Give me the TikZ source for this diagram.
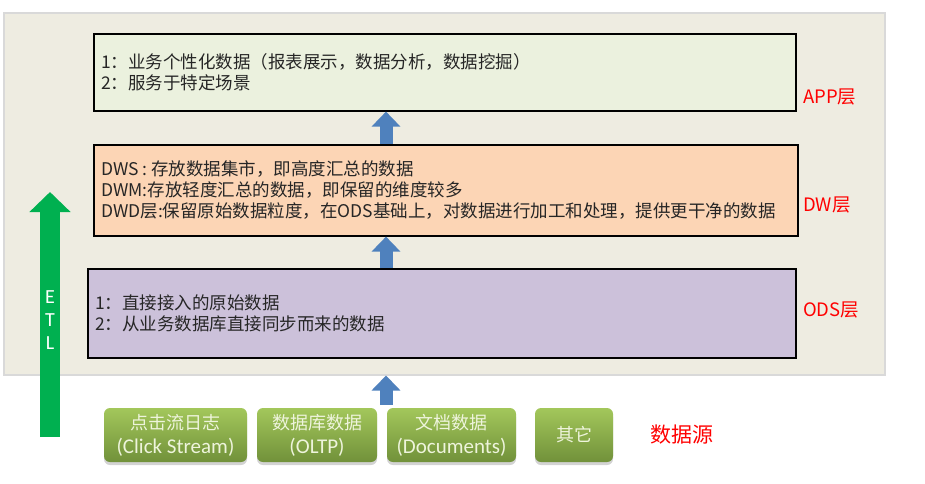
\documentclass[tikz,border=0pt]{standalone}
\usepackage{fontspec}
\setmainfont{Noto Sans CJK SC}
\newfontfamily\calibri{Carlito}
\usetikzlibrary{arrows.meta,shadows,positioning}
\definecolor{panelbg}{HTML}{EEECE1}
\definecolor{panelline}{HTML}{D9D9D9}
\definecolor{appfill}{HTML}{EBF1DE}
\definecolor{dwfill}{HTML}{FCD5B5}
\definecolor{odsfill}{HTML}{CCC1DA}
\definecolor{arrowblue}{HTML}{4F81BD}
\definecolor{etlgreen}{HTML}{00B050}
\definecolor{srctop}{HTML}{A3C75B}
\definecolor{srcbot}{HTML}{71913A}
\definecolor{srctext}{HTML}{EEF4DC}
\begin{document}
\begin{tikzpicture}[x=1pt,y=-1pt,
  layer/.style={draw=black,line width=1.6pt,anchor=north west,inner sep=0pt},
  txt/.style={anchor=west,align=left,inner sep=0pt,text=black!85,font=\fontsize{17.5}{21}\selectfont},
  tag/.style={anchor=west,inner sep=0pt,text=red,font=\fontsize{18.5}{22}\selectfont},
  src/.style={rounded corners=6pt,inner sep=0pt,minimum height=54pt,top color=srctop,bottom color=srcbot,
    text=srctext,align=center,font=\fontsize{18}{24}\selectfont,
    drop shadow={shadow xshift=0pt,shadow yshift=-3pt,opacity=0.35,fill=black!50}},
  latin/.style={font=\calibri\fontsize{21}{24}\selectfont},
  uparrow/.style={arrowblue,line width=13pt,-{Triangle[width=28pt,length=15pt]}}]
\useasboundingbox (0,0) rectangle (925,483);
% background panel and layers
\node[fill=panelbg,draw=panelline,line width=1.5pt,anchor=north west,inner sep=0pt,
  minimum width=881pt,minimum height=362pt] (panel) at (3,12) {};
\node[layer,fill=appfill,minimum width=702pt,minimum height=77pt] (app) at (93,33) {};
\node[layer,fill=dwfill,minimum width=704pt,minimum height=91pt] (dw) at (93,144) {};
\node[layer,fill=odsfill,minimum width=708pt,minimum height=89pt] (ods) at (87,268) {};
\node[txt] (apptxt) at ([xshift=8pt]app.west) {1：业务个性化数据（报表展示，数据分析，数据挖掘）\\2：服务于特定场景};
\node[txt] (dwtxt) at ([xshift=8pt]dw.west) {DWS : 存放数据集市，即高度汇总的数据\\DWM:存放轻度汇总的数据，即保留的维度较多\\DWD层:保留原始数据粒度，在ODS基础上，对数据进行加工和处理，提供更干净的数据};
\node[txt] (odstxt) at ([xshift=8pt]ods.west) {1：直接接入的原始数据\\2：从业务数据库直接同步而来的数据};
\node[tag] (apptag) at (803,97) {APP层};
\node[tag] (dwtag) at (803,205) {DW层};
\node[tag] (odstag) at (803,310) {ODS层};
% data sources
\node[src,minimum width=143pt] (click) at (175.5,435) {点击流日志\\{\calibri\fontsize{21}{24}\selectfont (Click Stream)}};
\node[src,minimum width=120pt] (oltp) at (317,435) {数据库数据\\{\calibri\fontsize{21}{24}\selectfont (OLTP)}};
\node[src,minimum width=129pt] (docs) at (451.5,435) {文档数据\\{\calibri\fontsize{21}{24}\selectfont (Documents)}};
\node[src,minimum width=78pt] (other) at (574,435) {其它};
\node[tag,font=\fontsize{21}{24}\selectfont] (srctag) at (650,435) {数据源};
% arrows
\coordinate (axis) at (386,0);
\draw[uparrow] (axis |- dw.north) -- (axis |- app.south);
\draw[uparrow] (axis |- ods.north) -- (axis |- dw.south);
\draw[uparrow] ([yshift=3pt]axis |- docs.north) -- (axis |- panel.south);
\coordinate (etlfoot) at (50,437);
\coordinate (etlhead) at (50,192);
\draw[etlgreen,line width=20pt,-{Triangle[width=40pt,length=20pt]}] (etlfoot) -- (etlhead);
\node[text=white,align=center,inner sep=0pt,font=\calibri\fontsize{20}{23}\selectfont] (etl) at (50,320) {E\\T\\L};
\end{tikzpicture}
\end{document}
